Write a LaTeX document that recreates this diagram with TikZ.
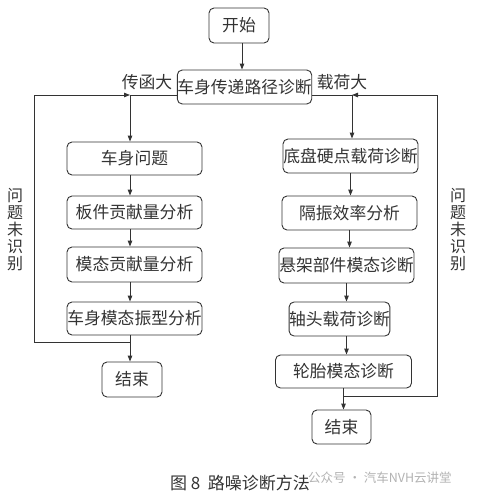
\documentclass[tikz,border=0pt]{standalone}
\usepackage{fontspec}
\setmainfont{Noto Sans CJK SC}
\usetikzlibrary{arrows.meta}
\definecolor{ink}{HTML}{333333}
\tikzset{
  box/.style={draw=ink, line width=0.9pt, rounded corners=5pt, inner sep=0pt, text=ink,
    font=\fontsize{16.8}{18}\selectfont},
  lbl/.style={text=ink, inner sep=0pt, font=\fontsize{16.8}{18}\selectfont},
  vlbl/.style={text=ink, inner sep=0pt, align=center, font=\fontsize{16}{17}\selectfont},
  conn/.style={draw=ink, line width=0.9pt},
  arr/.style={conn, -{Triangle[length=6pt,width=4.5pt]}}
}
\begin{document}
\begin{tikzpicture}[x=1pt,y=-1pt]
\useasboundingbox (0,0) rectangle (477,498);
% nodes
\node[box, minimum width=60pt, minimum height=35pt] (start) at (239,25.5) {开始};
\node[box, minimum width=129pt, minimum height=34pt] (main) at (244.5,87) {车身传递路径诊断};
\node[lbl] (lbla) at (147,82) {传函大};
\node[lbl] (lblb) at (342,82) {载荷大};

\node[box, minimum width=135pt, minimum height=33pt] (L1) at (134.5,158.5) {车身问题};
\node[box, minimum width=135pt, minimum height=33pt] (L2) at (134.5,212.5) {板件贡献量分析};
\node[box, minimum width=135pt, minimum height=35pt] (L3) at (134.5,264.5) {模态贡献量分析};
\node[box, minimum width=135pt, minimum height=33pt] (L4) at (134.5,318.5) {车身模态振型分析};
\node[box, minimum width=60pt, minimum height=35pt] (Lend) at (132,379.5) {结束};

\node[box, minimum width=135pt, minimum height=34pt] (R1) at (350.5,156) {底盘硬点载荷诊断};
\node[box, minimum width=135pt, minimum height=34pt] (R2) at (349.5,213) {隔振效率分析};
\node[box, minimum width=135pt, minimum height=35pt] (R3) at (346.5,265.5) {悬架部件模态诊断};
\node[box, minimum width=99pt, minimum height=34pt] (R4) at (339.5,319) {轴头载荷诊断};
\node[box, minimum width=136pt, minimum height=33pt] (R5) at (343.5,371.5) {轮胎模态诊断};
\node[box, minimum width=59pt, minimum height=34pt] (Rend) at (341.5,427) {结束};

\node[vlbl] (vl) at (15,230) {问\\题\\未\\识\\别};
\node[vlbl] (vr) at (458,230) {问\\题\\未\\识\\别};

\node[text=ink, inner sep=0pt, font=\fontsize{17}{18}\selectfont] (cap) at (240,483) {图\ 8\ \ 路噪诊断方法};
\node[text=black!30, inner sep=0pt, font=\fontsize{12.5}{14}\selectfont, anchor=west] (wm) at (308,478) {公众号 · 汽车NVH云讲堂};

% coordinates
\coordinate (lx) at (130,0);
\coordinate (jl) at (130,95);
\coordinate (jr) at (352,95);
\coordinate (lb) at (130,342);
\coordinate (lc1) at (34,342);
\coordinate (lc2) at (34,95);
\coordinate (rb) at (344,396);
\coordinate (rc1) at (437,396);
\coordinate (rc2) at (437,95);

% connectors
\draw[arr] (start.south -| 242,0) -- (main.north -| 242,0);
\draw[conn] (main.west |- jl) -- (jl);
\draw[conn] (main.east |- jr) -- (jr);
\draw[arr] (jl) -- (L1.north -| jl);
\draw[arr] (jr) -- (R1.north -| jr);

\draw[arr] (L1.south -| lx) -- (L2.north -| lx);
\draw[arr] (L2.south -| lx) -- (L3.north -| lx);
\draw[arr] (L3.south -| lx) -- (L4.north -| lx);
\draw[arr] (L4.south -| lx) -- (Lend.north -| lx);
\draw[arr] (lb) -- (lc1) -- (lc2) -- (jl);

\draw[arr] (R1.south) -- (R1.south |- R2.north);
\draw[arr] (R2.south) -- (R2.south |- R3.north);
\draw[arr] (R3.south) -- (R3.south |- R4.north);
\draw[arr] (R4.south -| R3.south) -- (R5.north -| R3.south);
\draw[arr] (R5.south) -- (R5.south |- Rend.north);
\draw[arr] (rb) -- (rc1) -- (rc2) -- (jr);
\end{tikzpicture}
\end{document}
